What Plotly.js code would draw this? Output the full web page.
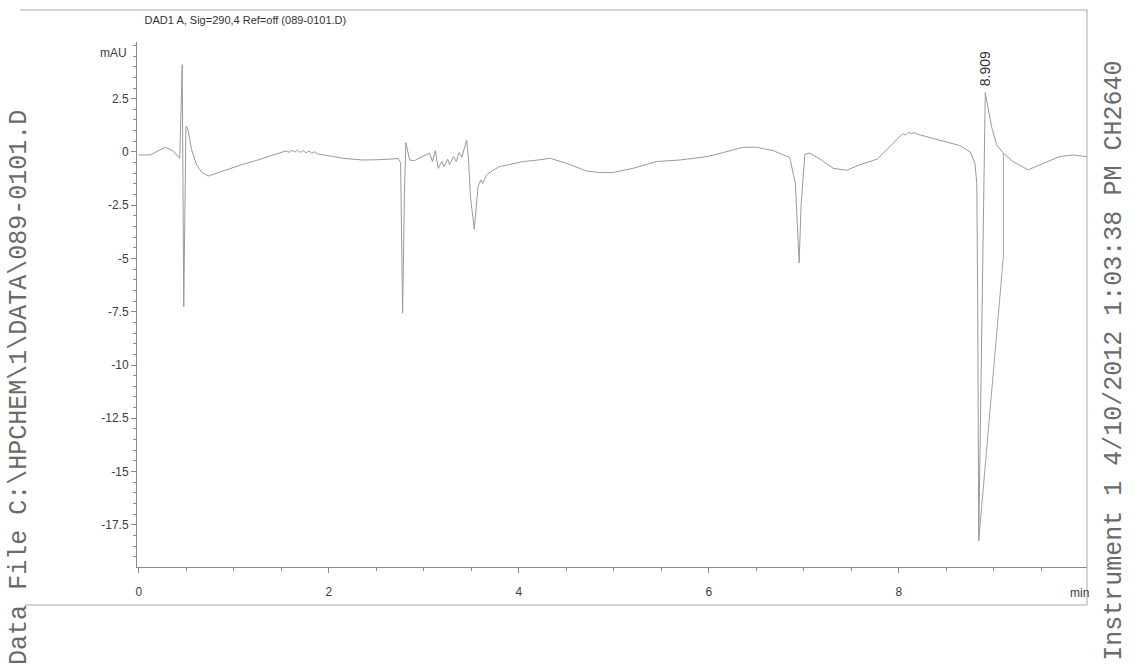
<!DOCTYPE html>
<html>
<head>
<meta charset="utf-8">
<script src="https://cdn.plot.ly/plotly-3.0.1.min.js"></script>
<style>
  html, body { margin: 0; padding: 0; background: #ffffff; }
  #chart { width: 1141px; height: 668px; }
</style>
</head>
<body>
<div id="chart"></div>
<script>
// DAD1 A chromatogram, signal 290 nm (run 089-0101.D)
const timeMin = [
  0.00, 0.12, 0.20, 0.28, 0.36, 0.43, 0.456, 0.472, 0.495, 0.512, 0.555, 0.607, 0.66, 0.73, 0.85, 0.96,
  1.08, 1.20, 1.30, 1.38, 1.47, 1.55, 1.58, 1.61, 1.64, 1.67, 1.70, 1.73, 1.76, 1.79, 1.82, 1.85, 1.88,
  1.95, 2.05, 2.15, 2.36, 2.55, 2.73, 2.755, 2.776, 2.795, 2.81, 2.85, 2.90, 2.98, 3.06, 3.09, 3.12,
  3.15, 3.19, 3.21, 3.25, 3.27, 3.31, 3.34, 3.37, 3.40, 3.45, 3.47, 3.49, 3.53, 3.55, 3.57, 3.60, 3.62,
  3.66, 3.72, 3.80, 3.91, 4.05, 4.20, 4.33, 4.50, 4.71, 4.85, 4.99, 5.20, 5.45, 5.69, 5.98, 6.15, 6.36,
  6.50, 6.60, 6.68, 6.80, 6.85, 6.91, 6.95, 6.97, 7.01, 7.06, 7.17, 7.31, 7.45, 7.59, 7.77, 7.91, 8.01,
  8.04, 8.07, 8.10, 8.13, 8.16, 8.19, 8.26, 8.43, 8.64, 8.75, 8.80, 8.82, 8.83, 8.84, 8.909, 8.975,
  9.03, 9.10, 9.20, 9.36, 9.48, 9.69, 9.83, 9.98
];
const signalMAU = [
  -0.14, -0.14, 0.05, 0.22, 0.05, -0.30, 4.10, -7.26, 1.20, 1.15, 0.10, -0.60, -0.95, -1.13, -0.95, -0.77,
  -0.60, -0.45, -0.30, -0.19, -0.05, 0.05, -0.02, 0.08, -0.01, 0.08, -0.02, 0.06, -0.04, 0.04, -0.06, 0.01, -0.09,
  -0.13, -0.22, -0.30, -0.38, -0.36, -0.31, -0.50, -7.57, -2.00, 0.44, -0.38, -0.41, -0.22, -0.06, -0.45, 0.06,
  -0.77, -0.45, -0.69, -0.34, -0.61, -0.22, -0.45, -0.03, -0.25, 0.56, -0.38, -2.10, -3.62, -2.72, -1.63, -1.31, -1.47,
  -1.08, -0.88, -0.68, -0.58, -0.45, -0.38, -0.30, -0.53, -0.89, -0.97, -0.97, -0.77, -0.45, -0.38, -0.22, -0.03, 0.22,
  0.22, 0.12, 0.06, -0.17, -0.25, -1.47, -5.21, -2.51, -0.11, -0.05, -0.34, -0.77, -0.86, -0.60, -0.34, 0.27, 0.70,
  0.86, 0.80, 0.93, 0.86, 0.92, 0.84, 0.76, 0.53, 0.30, 0.00, -0.52, -1.47, -7.40, -18.25, 2.78, 1.19,
  0.33, -0.06, -0.45, -0.84, -0.61, -0.22, -0.14, -0.22
];

// integration baseline drawn under the 8.909 peak
const baselineTime = [8.84, 9.10, 9.10];
const baselineMAU = [-18.25, -4.90, -0.06];

// labelled peak
const peakRT = 8.909;
const peakHeight = 2.78;

const yTickVals = [-17.5, -15, -12.5, -10, -7.5, -5, -2.5, 0, 2.5];
const yTickText = ['-17.5', '-15', '-12.5', '-10', '-7.5', '-5', '-2.5', '0', '2.5'];
const xTickVals = [0, 2, 4, 6, 8];
const xTickText = ['0', '2', '4', '6', '8'];

const titleText = 'DAD1 A, Sig=290,4 Ref=off (089-0101.D)';
const leftNote = 'Data File C:\\HPCHEM\\1\\DATA\\089-0101.D';
const rightNote = 'Instrument 1 4/10/2012 1:03:38 PM CH2640';

const axisGrey = '#8a8a8a';
const textGrey = '#3c3c3c';
const sans = 'Liberation Sans, Arial, sans-serif';
const mono = 'Liberation Mono, Courier New, monospace';
const tickFont = { family: sans, size: 12, color: textGrey };

const traces = [
  {
    x: timeMin, y: signalMAU, type: 'scatter', mode: 'lines',
    line: { color: '#9a9a9a', width: 1 }, hoverinfo: 'x+y'
  },
  {
    x: baselineTime, y: baselineMAU, type: 'scatter', mode: 'lines',
    line: { color: '#a2a2a2', width: 1 }, hoverinfo: 'skip'
  }
];

const frameLine = { color: '#a8a8a8', width: 1 };

const layout = {
  width: 1141, height: 668,
  margin: { l: 137, r: 54, t: 42, b: 101 },
  paper_bgcolor: '#ffffff', plot_bgcolor: '#ffffff',
  showlegend: false,
  title: {
    text: titleText,
    font: { family: sans, size: 11, color: '#333333' },
    xref: 'paper', x: 0.008, xanchor: 'left',
    yref: 'container', y: 0.970, yanchor: 'middle'
  },
  xaxis: {
    range: [-0.02, 9.98],
    showgrid: false, zeroline: false,
    showline: true, linecolor: axisGrey, linewidth: 1,
    tickmode: 'array', tickvals: xTickVals, ticktext: xTickText,
    ticks: 'outside', ticklen: 5, tickcolor: axisGrey, tickwidth: 1,
    ticklabelstandoff: 9,
    minor: { tickmode: 'linear', tick0: 0, dtick: 0.5, ticks: 'outside', ticklen: 3, tickcolor: axisGrey },
    tickfont: tickFont
  },
  yaxis: {
    range: [-19.48, 5.16],
    showgrid: false, zeroline: false,
    showline: true, linecolor: axisGrey, linewidth: 1,
    tickmode: 'array', tickvals: yTickVals, ticktext: yTickText,
    ticks: 'outside', ticklen: 5, tickcolor: axisGrey, tickwidth: 1,
    minor: { tickmode: 'linear', tick0: 0, dtick: 0.5, ticks: 'outside', ticklen: 3, tickcolor: axisGrey },
    tickfont: tickFont
  },
  annotations: [
    { text: 'mAU', xref: 'paper', x: 0, xanchor: 'right', xshift: -8,
      yref: 'y', y: 4.65, yanchor: 'middle', showarrow: false,
      font: { family: sans, size: 12, color: textGrey } },
    { text: 'min', xref: 'paper', x: 0.9926, xanchor: 'center',
      yref: 'paper', y: -0.0495, yanchor: 'middle', showarrow: false,
      font: { family: sans, size: 12, color: textGrey } },
    { text: String(peakRT.toFixed(3)), xref: 'x', x: peakRT, yref: 'y', y: peakHeight + 0.2,
      xanchor: 'center', yanchor: 'bottom', textangle: -90, showarrow: false,
      font: { family: sans, size: 14, color: '#333333' } },
    { text: leftNote, xref: 'paper', x: -0.1232, xanchor: 'center',
      yref: 'paper', y: 0.343, yanchor: 'middle', textangle: -90, showarrow: false,
      font: { family: mono, size: 25, color: '#6a6a6a' } },
    { text: rightNote, xref: 'paper', x: 1.0295, xanchor: 'center',
      yref: 'paper', y: 0.393, yanchor: 'middle', textangle: -90, showarrow: false,
      font: { family: mono, size: 25, color: '#6a6a6a' } }
  ],
  shapes: [
    { type: 'line', xref: 'paper', yref: 'paper', x0: -0.123, x1: 1.0, y0: 1.061, y1: 1.061, line: frameLine },
    { type: 'line', xref: 'paper', yref: 'paper', x0: -0.118, x1: 1.0, y0: -0.0724, y1: -0.0724, line: frameLine },
    { type: 'line', xref: 'paper', yref: 'paper', x0: 1.0, x1: 1.0, y0: -0.0724, y1: 1.061, line: frameLine }
  ]
};

Plotly.newPlot('chart', traces, layout, { displayModeBar: false, staticPlot: true });
</script>
</body>
</html>
